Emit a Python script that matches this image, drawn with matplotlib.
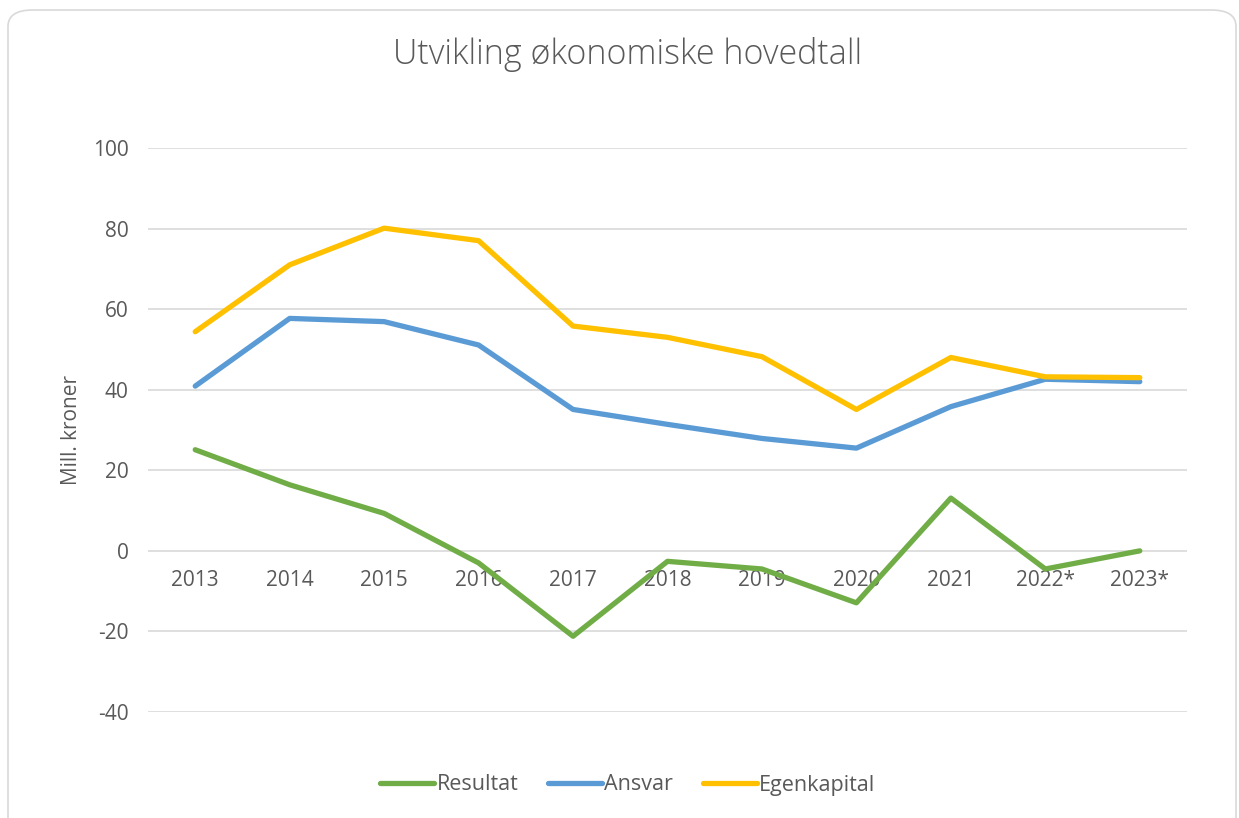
import matplotlib
matplotlib.use("Agg")
import matplotlib.pyplot as plt
from matplotlib.patches import FancyBboxPatch

years = ["2013", "2014", "2015", "2016", "2017", "2018", "2019", "2020", "2021", "2022*", "2023*"]
resultat = [25.1, 16.4, 9.3, -3.0, -21.2, -2.6, -4.5, -12.9, 13.1, -4.5, 0.0]
ansvar = [40.9, 57.7, 56.9, 51.1, 35.1, 31.4, 27.9, 25.5, 35.8, 42.6, 42.0]
egenkapital = [54.4, 71.0, 80.1, 77.0, 55.8, 53.0, 48.2, 35.1, 48.0, 43.2, 43.0]

plt.rcParams['font.family'] = ['Open Sans', 'DejaVu Sans']
TXT = "#595959"
W, H = 1239, 818
fig = plt.figure(figsize=(W / 100, H / 100), dpi=100)

border = FancyBboxPatch((8 / W, -20 / H), (1228) / W, (H - 10 + 20) / H,
                        boxstyle="round,pad=0,rounding_size=0.02",
                        transform=fig.transFigure, facecolor="white",
                        edgecolor="#D9D9D9", linewidth=1.2, zorder=-5)
fig.add_artist(border)

ax = fig.add_axes([148 / W, 1 - 712 / H, (1187 - 148) / W, (712 - 148) / H])
ax.set_zorder(2)
ax.set_facecolor("none")
x = list(range(len(years)))
lw = 3.8
ax.plot(x, resultat, color="#70AD47", lw=lw, solid_capstyle="round", solid_joinstyle="round", label="Resultat", zorder=3)
ax.plot(x, ansvar, color="#5B9BD5", lw=lw, solid_capstyle="round", solid_joinstyle="round", label="Ansvar", zorder=3)
ax.plot(x, egenkapital, color="#FFC000", lw=lw, solid_capstyle="round", solid_joinstyle="round", label="Egenkapital", zorder=3)

ax.set_xlim(-0.5, len(years) - 0.5)
ax.set_ylim(-40, 100)
ax.set_yticks(range(-40, 101, 20))
ax.set_yticklabels([str(v) for v in range(-40, 101, 20)], fontsize=15, color=TXT)
ax.grid(axis="y", color="#D9D9D9", lw=1.2, zorder=0)
ax.set_axisbelow(True)
for s in ax.spines.values():
    s.set_visible(False)
ax.spines["bottom"].set_position(("data", 0))
ax.set_xticks(x)
ax.set_xticklabels(years, fontsize=15, color=TXT)
ax.tick_params(axis="both", length=0)
ax.tick_params(axis="x", pad=14)
ax.tick_params(axis="y", pad=14)

ax.set_ylabel("Mill. kroner", fontsize=15, color=TXT, labelpad=8)

fig.text(628 / W, 1 - 55 / H, "Utvikling økonomiske hovedtall", ha="center", va="center",
         fontsize=24.5, color=TXT, fontweight="light")

leg = fig.legend(loc="center", bbox_to_anchor=(628 / W, 1 - 785 / H), ncol=3, frameon=False,
                 fontsize=15.5, handlelength=2.5, handletextpad=0.1, columnspacing=1.4)
for t in leg.get_texts():
    t.set_color(TXT)

fig.savefig("out.png", dpi=100)
